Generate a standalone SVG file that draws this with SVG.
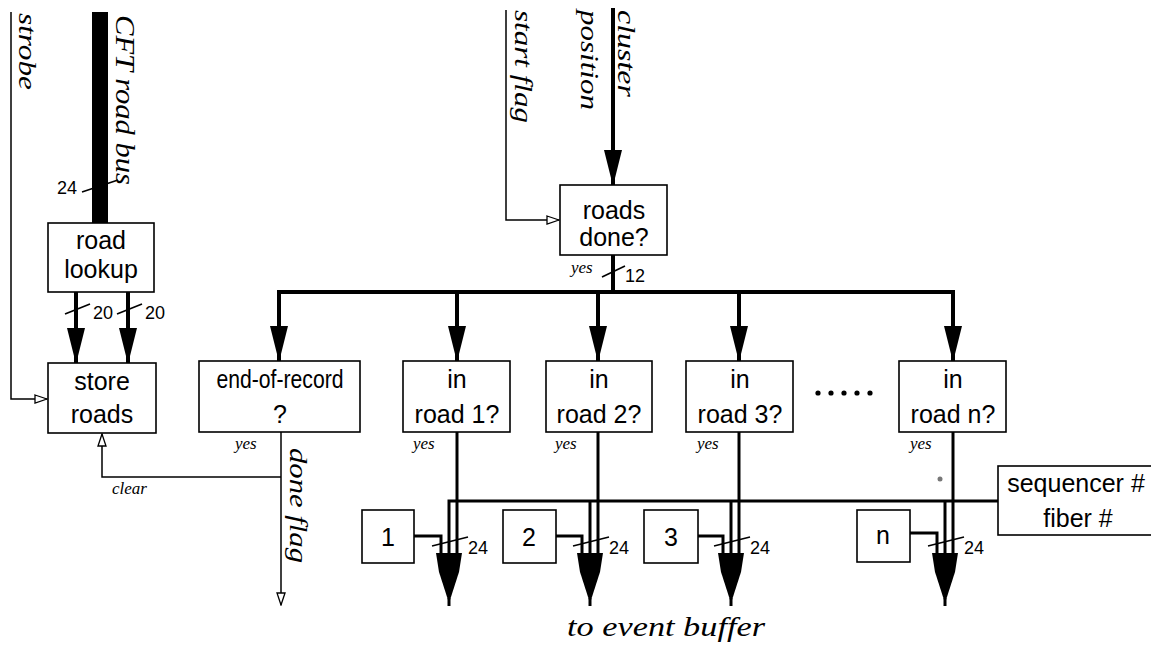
<svg xmlns="http://www.w3.org/2000/svg" width="1151" height="648" viewBox="0 0 1151 648">
<defs>
<style>
.box{fill:#fff;stroke:#000;stroke-width:1.6}
.lbl{font-family:"Liberation Sans",Arial,sans-serif;font-size:25px;fill:#000;text-anchor:middle}
.num{font-family:"Liberation Sans",Arial,sans-serif;font-size:18px;fill:#000}
.it{font-family:"Liberation Serif","Times New Roman",serif;font-style:italic;fill:#000}
.thin{fill:none;stroke:#000;stroke-width:1.5}
.thick{fill:none;stroke:#000;stroke-width:4}
.mid{fill:none;stroke:#000;stroke-width:3}
.sl{fill:none;stroke:#000;stroke-width:1.6}
</style>
<marker id="fa" markerUnits="userSpaceOnUse" viewBox="0 0 36 18" markerWidth="36" markerHeight="18" refX="35" refY="9" orient="auto">
<path d="M0,0 L36,9 L0,18 z" fill="#000"/>
</marker>
<marker id="ha" markerUnits="userSpaceOnUse" viewBox="0 0 14 10" markerWidth="14" markerHeight="10" refX="13" refY="5" orient="auto">
<path d="M1,1 L13,5 L1,9 z" fill="#fff" stroke="#000" stroke-width="1.3"/>
</marker>
<polygon id="ma" points="-13,0 13,0 10,19 1,47 -1,47 -10,19" fill="#000"/>
</defs>
<rect width="1151" height="648" fill="#fff"/>

<g id="connectors">
<path class="thin" d="M11,12 V399 H47" marker-end="url(#ha)"/>
<rect x="92" y="12" width="16" height="211" fill="#000"/>
<line class="sl" x1="82" y1="192" x2="118" y2="180"/>
<line class="thick" x1="76" y1="292" x2="76" y2="363" marker-end="url(#fa)"/>
<line class="thick" x1="128" y1="292" x2="128" y2="363" marker-end="url(#fa)"/>
<line class="sl" x1="65" y1="314" x2="90" y2="304"/>
<line class="sl" x1="117" y1="314" x2="142" y2="304"/>
<path class="thin" d="M506,10 V220 H559" marker-end="url(#ha)"/>
<line class="thick" x1="613" y1="8" x2="613" y2="185" marker-end="url(#fa)"/>
<line class="thick" x1="613" y1="255" x2="613" y2="292"/>
<line class="sl" x1="602" y1="277" x2="625" y2="266"/>
<line class="thick" x1="277" y1="292" x2="955" y2="292"/>
<line class="thick" x1="279" y1="292" x2="279" y2="361" marker-end="url(#fa)"/>
<line class="thick" x1="457" y1="292" x2="457" y2="361" marker-end="url(#fa)"/>
<line class="thick" x1="598" y1="292" x2="598" y2="361" marker-end="url(#fa)"/>
<line class="thick" x1="739" y1="292" x2="739" y2="361" marker-end="url(#fa)"/>
<line class="thick" x1="953" y1="292" x2="953" y2="361" marker-end="url(#fa)"/>
<path class="thin" d="M281,432 V605" marker-end="url(#ha)"/>
<path class="thin" d="M281,477 H102 V434" marker-end="url(#ha)"/>
<path class="mid" d="M449,556 V501 H998"/>
<line class="mid" x1="590" y1="501" x2="590" y2="556"/>
<line class="mid" x1="731" y1="501" x2="731" y2="556"/>
<line class="mid" x1="945" y1="501" x2="945" y2="556"/>
<line class="mid" x1="457" y1="432" x2="457" y2="556"/>
<line class="mid" x1="598" y1="432" x2="598" y2="556"/>
<line class="mid" x1="739" y1="432" x2="739" y2="556"/>
<line class="mid" x1="953" y1="432" x2="953" y2="556"/>
<path class="mid" d="M414,536 H441 V556"/>
<path class="mid" d="M556,536 H582 V556"/>
<path class="mid" d="M698,536 H723 V556"/>
<path class="mid" d="M910,533 H937 V556"/>
<use href="#ma" x="449" y="553"/>
<use href="#ma" x="590" y="553"/>
<use href="#ma" x="731" y="553"/>
<use href="#ma" x="945" y="553"/>
<line class="mid" x1="449" y1="598" x2="449" y2="606"/>
<line class="mid" x1="590" y1="598" x2="590" y2="606"/>
<line class="mid" x1="731" y1="598" x2="731" y2="606"/>
<line class="mid" x1="945" y1="598" x2="945" y2="606"/>
<line class="sl" x1="432" y1="546" x2="468" y2="537"/>
<line class="sl" x1="573" y1="546" x2="609" y2="537"/>
<line class="sl" x1="714" y1="546" x2="750" y2="537"/>
<line class="sl" x1="928" y1="546" x2="964" y2="537"/>
<circle cx="940" cy="479" r="2.5" fill="#777"/>
</g>

<g id="labels">
<text class="it" font-size="25" transform="rotate(90 19 13)" x="19" y="13" textLength="77" lengthAdjust="spacingAndGlyphs">strobe</text>
<text class="it" font-size="27" transform="rotate(90 116 15)" x="116" y="15" textLength="170" lengthAdjust="spacingAndGlyphs">CFT road bus</text>
<text class="num" x="57" y="194">24</text>
<text class="num" x="93" y="319">20</text>
<text class="num" x="145" y="319">20</text>
<text class="it" font-size="25" transform="rotate(90 515 10)" x="515" y="10" textLength="113" lengthAdjust="spacingAndGlyphs">start flag</text>
<text class="it" font-size="25" transform="rotate(90 581 10)" x="581" y="10" textLength="100" lengthAdjust="spacingAndGlyphs">position</text>
<text class="it" font-size="25" transform="rotate(90 618 10)" x="618" y="10" textLength="87" lengthAdjust="spacingAndGlyphs">cluster</text>
<text class="it" font-size="17" x="571" y="273">yes</text>
<text class="num" x="625" y="282">12</text>
<text class="it" font-size="25" transform="rotate(90 290 448)" x="290" y="448" textLength="115" lengthAdjust="spacingAndGlyphs">done flag</text>
<text class="it" font-size="17" x="112" y="494">clear</text>
<text class="it" font-size="17" x="235" y="449">yes</text>
<text class="it" font-size="17" x="413" y="449">yes</text>
<text class="it" font-size="17" x="555" y="449">yes</text>
<text class="it" font-size="17" x="697" y="449">yes</text>
<text class="it" font-size="17" x="910" y="449">yes</text>
<text class="num" x="468" y="554">24</text>
<text class="num" x="609" y="554">24</text>
<text class="num" x="750" y="554">24</text>
<text class="num" x="964" y="554">24</text>
<g fill="#000"><circle cx="818" cy="393" r="2.6"/><circle cx="831" cy="393" r="2.6"/><circle cx="844" cy="393" r="2.6"/><circle cx="857" cy="393" r="2.6"/><circle cx="870" cy="393" r="2.6"/></g>
<text class="it" font-size="27" x="567" y="636" textLength="198" lengthAdjust="spacingAndGlyphs">to event buffer</text>
</g>

<g id="road-lookup"><rect class="box" x="48" y="223" width="106" height="69"/><text class="lbl" x="101" y="249">road</text><text class="lbl" x="101" y="278">lookup</text></g>
<g id="store-roads"><rect class="box" x="48" y="363" width="108" height="70"/><text class="lbl" x="102" y="390">store</text><text class="lbl" x="102" y="423">roads</text></g>
<g id="roads-done"><rect class="box" x="560" y="185" width="107" height="70"/><text class="lbl" x="614" y="219">roads</text><text class="lbl" x="614" y="246">done?</text></g>
<g id="end-of-record"><rect class="box" x="199" y="361" width="161" height="71"/><text class="lbl" x="280" y="388" font-size="19" textLength="127" lengthAdjust="spacingAndGlyphs">end-of-record</text><text class="lbl" x="280" y="423">?</text></g>
<g id="in-road-1"><rect class="box" x="403" y="361" width="107" height="71"/><text class="lbl" x="457" y="388">in</text><text class="lbl" x="457" y="423">road 1?</text></g>
<g id="in-road-2"><rect class="box" x="546" y="361" width="106" height="71"/><text class="lbl" x="599" y="388">in</text><text class="lbl" x="599" y="423">road 2?</text></g>
<g id="in-road-3"><rect class="box" x="686" y="361" width="107" height="71"/><text class="lbl" x="740" y="388">in</text><text class="lbl" x="740" y="423">road 3?</text></g>
<g id="in-road-n"><rect class="box" x="899" y="361" width="107" height="71"/><text class="lbl" x="953" y="388">in</text><text class="lbl" x="953" y="423">road n?</text></g>
<g id="box-1"><rect class="box" x="362" y="510" width="52" height="53"/><text class="lbl" x="388" y="546">1</text></g>
<g id="box-2"><rect class="box" x="503" y="510" width="53" height="53"/><text class="lbl" x="529" y="546">2</text></g>
<g id="box-3"><rect class="box" x="644" y="510" width="54" height="53"/><text class="lbl" x="671" y="546">3</text></g>
<g id="box-n"><rect class="box" x="857" y="510" width="53" height="52"/><text class="lbl" x="883" y="544">n</text></g>
<g id="sequencer"><rect class="box" x="998" y="466" width="160" height="69"/><text class="lbl" x="1076" y="492">sequencer #</text><text class="lbl" x="1078" y="527">fiber #</text></g>
</svg>
